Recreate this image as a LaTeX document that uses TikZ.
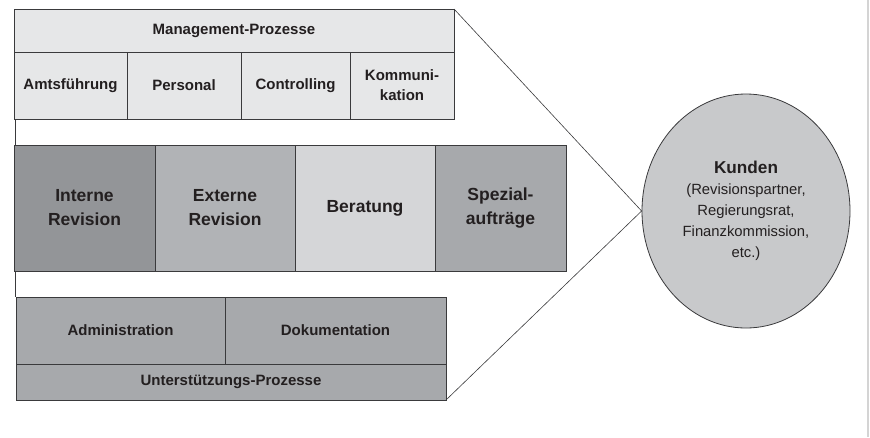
\documentclass[tikz,border=0pt]{standalone}
\usepackage{fontspec}
\setmainfont{Liberation Sans}
\usetikzlibrary{positioning,shapes.geometric}
\definecolor{txtgrey}{HTML}{231F20}
\definecolor{edgegrey}{HTML}{3A3A3C}
\definecolor{mgmtfill}{HTML}{E6E7E8}
\definecolor{intfill}{HTML}{939598}
\definecolor{extfill}{HTML}{B1B3B6}
\definecolor{berfill}{HTML}{D5D6D8}
\definecolor{spzfill}{HTML}{A7A9AC}
\definecolor{supfill}{HTML}{A7A9AC}
\definecolor{kdnfill}{HTML}{C8C9CB}
\definecolor{rimgrey}{HTML}{D4D4D4}
\tikzset{
  cell/.style    = {draw=edgegrey, line width=0.8pt, rectangle, inner sep=0pt,
                    outer sep=0pt, align=center, text=txtgrey,
                    font=\bfseries\fontsize{15}{20}\selectfont},
  corecell/.style = {cell, font=\bfseries\fontsize{17.5}{24}\selectfont},
  kunde/.style   = {draw=edgegrey, line width=0.8pt, ellipse, fill=kdnfill,
                    inner sep=0pt, align=center, text=txtgrey,
                    font=\fontsize{14.8}{21}\selectfont},
  link/.style    = {draw=edgegrey, line width=0.6pt},
}

\begin{document}
\begin{tikzpicture}[x=1pt,y=-1pt]
\useasboundingbox (0,0) rectangle (870,437);
\draw[rimgrey, line width=2pt] (868,0) -- (868,437);
% Management-Prozesse
\node[cell,fill=mgmtfill,minimum width=440,minimum height=43] (mgmt) at (234,30.5) {Management-Prozesse};
\node[cell,fill=mgmtfill,minimum width=113,minimum height=67] (amts) at (70.5,85.5) {Amtsführung};
\node[cell,fill=mgmtfill,minimum width=114,minimum height=67] (pers) at (184,85.5) {Personal};
\node[cell,fill=mgmtfill,minimum width=109,minimum height=67] (ctrl) at (295.5,85.5) {Controlling};
\node[cell,fill=mgmtfill,minimum width=104,minimum height=67] (komm) at (402,85.5) {Kommuni-\\kation};
% Unterstuetzungs-Prozesse
\node[cell,fill=supfill,minimum width=209,minimum height=67] (admin) at (120.5,330.5) {Administration};
\node[cell,fill=supfill,minimum width=221,minimum height=67] (doku) at (335.5,330.5) {Dokumentation};
\node[cell,fill=supfill,minimum width=430,minimum height=36] (supp) at (231,382) {Unterstützungs-Prozesse};
\draw[link] (amts.south west) ++(1,0) coordinate (lft) -- (lft |- admin.north);
% Kernprozesse
\node[corecell,fill=intfill,minimum width=141,minimum height=126] (intrev) at (84.5,208) {Interne\\Revision};
\node[corecell,fill=extfill,minimum width=140,minimum height=126] (extrev) at (225,208) {Externe\\Revision};
\node[corecell,fill=berfill,minimum width=140,minimum height=126] (berat) at (365,208) {Beratung};
\node[corecell,fill=spzfill,minimum width=131,minimum height=126] (spez) at (500.5,208) {Spezial-\\aufträge};
% Kunden
\node[kunde,minimum width=208,minimum height=234] (kunden) at (746,211)
  {{\bfseries\fontsize{17.2}{23}\selectfont Kunden}\\(Revisionspartner,\\Regierungsrat,\\Finanzkommission,\\etc.)};
\draw[link] (mgmt.north east) -- (kunden.west);
\draw[link] (supp.south east) -- (kunden.west);
\end{tikzpicture}
\end{document}
